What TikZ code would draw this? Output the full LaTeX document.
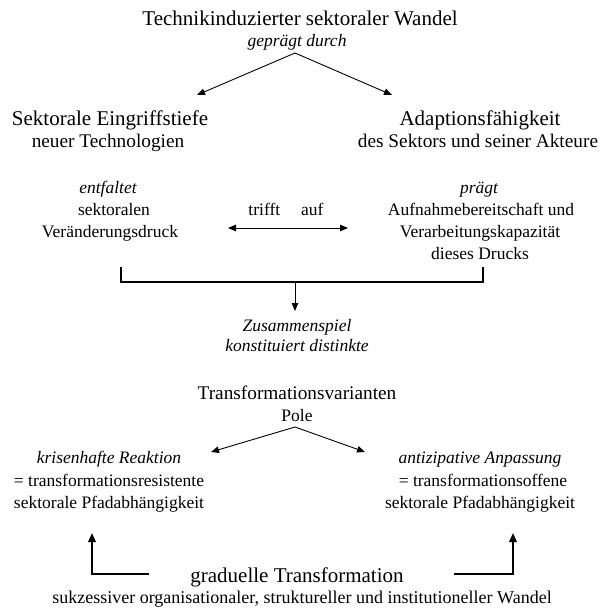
\documentclass[tikz,border=0pt]{standalone}
\usepackage{fontspec}
\setmainfont{Liberation Serif}
\usetikzlibrary{arrows.meta}
\begin{document}
\begin{tikzpicture}[x=1pt,y=-1pt,
  every node/.style={inner sep=0pt, anchor=base},
  head/.style={font=\fontsize{21}{24}\selectfont},
  sub/.style={font=\fontsize{19.3}{22}\selectfont},
  body/.style={font=\fontsize{17.5}{21}\selectfont},
  emph/.style={font=\fontsize{17.5}{21}\selectfont\itshape},
  tip/.style={Triangle[length=8pt,width=6.5pt]},
  arr/.style={line width=0.9pt, -{Triangle[length=8pt,width=6.5pt]}},
  darr/.style={line width=0.9pt, {Triangle[length=8pt,width=6.5pt]}-{Triangle[length=8pt,width=6.5pt]}},
  heavy/.style={line width=2pt},
  larr/.style={line width=1.8pt, -{Triangle[length=9pt,width=7.5pt]}},
]
\useasboundingbox (0,0) rectangle (606,610);

% top
\node[head] (title) at (300,26) {Technikinduzierter sektoraler Wandel};
\node[emph] (gd) at (297,47) {geprägt durch};
\coordinate (gdA) at (295,53);
\coordinate (sekT) at (197,95);
\coordinate (adaT) at (392,95);

\node[head] (sek) at (110,125) {Sektorale Eingriffstiefe};
\node[sub] (tech) at (108,147) {neuer Technologien};
\node[head] (adapt) at (480,125) {Adaptionsfähigkeit};
\node[sub] (akt) at (478,147) {des Sektors und seiner Akteure};

\draw[arr] (gdA) -- (sekT);
\draw[arr] (gdA) -- (adaT);

% middle
\node[emph] (entf) at (108,193) {entfaltet};
\node[body] (sekt) at (114,215) {sektoralen};
\node[body] (vd) at (110,237) {Veränderungsdruck};
\node[body] (trifft) at (286,215) {trifft\hspace{21pt}auf};
\node[emph] (praegt) at (479,193) {prägt};
\node[body] (aufn) at (481,215) {Aufnahmebereitschaft und};
\node[body] (verarb) at (480,237) {Verarbeitungskapazität};
\node[body] (drucks) at (480,259) {dieses Drucks};

\coordinate (dl) at (228,228);
\coordinate (dr) at (348,228);
\draw[darr] (dl) -- (dr);

\coordinate (bl) at (121,267);
\coordinate (blc) at (121,282);
\coordinate (brc) at (483,282);
\coordinate (br) at (483,267);
\draw[heavy] (bl) -- (blc) -- (brc) -- (br);
\coordinate (bm) at (295,282);
\coordinate (zt) at (295,311);
\draw[arr] (bm) -- (zt);

\node[emph] (zus) at (297,331) {Zusammenspiel};
\node[emph] (konst) at (297,351) {konstituiert distinkte};

\node[sub] (tv) at (297,399) {Transformationsvarianten};
\node[body] (pole) at (297,421) {Pole};
\coordinate (poA) at (295,427);
\coordinate (krT) at (211,452);
\coordinate (anT) at (365,452);
\draw[arr] (poA) -- (krT);
\draw[arr] (poA) -- (anT);

\node[emph] (kris) at (109,463) {krisenhafte Reaktion};
\node[body] (res) at (109,486) {= transformationsresistente};
\node[body] (pfl) at (109,508) {sektorale Pfadabhängigkeit};
\node[emph] (anti) at (480,463) {antizipative Anpassung};
\node[body] (off) at (483,486) {= transformationsoffene};
\node[body] (pfr) at (480,508) {sektorale Pfadabhängigkeit};

% bottom
\node[head] (grad) at (297,582) {graduelle Transformation};
\node[font=\fontsize{18}{21}\selectfont] (sukz) at (302,603) {sukzessiver organisationaler, struktureller und institutioneller Wandel};

\coordinate (gl) at (149,574);
\coordinate (glc) at (92,574);
\coordinate (glt) at (92,533);
\coordinate (gr) at (454,574);
\coordinate (grc) at (513,574);
\coordinate (grt) at (513,533);
\draw[larr] (gl) -- (glc) -- (glt);
\draw[larr] (gr) -- (grc) -- (grt);
\end{tikzpicture}
\end{document}
